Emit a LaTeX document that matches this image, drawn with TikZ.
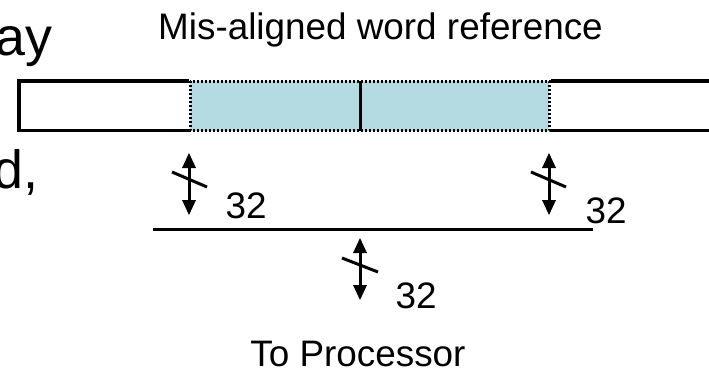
\documentclass[tikz,border=0pt]{standalone}
\usepackage{fontspec}
\setmainfont{Liberation Sans}
\usepackage{tikz}
\usetikzlibrary{arrows}
\usepackage{color}
\definecolor{wordfill}{RGB}{180,218,226}

\begin{document}
\begin{tikzpicture}[x=1bp,y=1bp]
\tikzstyle{every node}+=[inner sep=0pt,font=\fontsize{37}{44}\selectfont]
\tikzstyle{bigtext}=[font=\fontsize{54}{62}\selectfont]
\tikzstyle{busline}=[line width=3.5bp]
\tikzstyle{wire}=[line width=3bp,shorten <=7bp,shorten >=7bp]
\tikzstyle{slash}=[line width=3bp]
\useasboundingbox (0,0) rectangle (709,-370);
\node (way) [bigtext,anchor=base east] at (53,-55) {ay};
\node (word) [bigtext,anchor=base east] at (39,-188) {d,};
\node (title) [anchor=base] at (380.5,-39) {Mis-aligned word reference};
\draw [busline] (19,-81) rectangle (720,-130.5);
\fill [white] (188.5,-78.5) rectangle (550.5,-133);
\filldraw [fill=wordfill,draw=black,line width=3bp,dash pattern=on 2bp off 2bp] (190,-81) rectangle (549,-130.5);
\draw [line width=3bp] (360,-81) -- (360,-130.5);
\coordinate (busw) at (153,-229.5);
\coordinate (buse) at (593,-229.5);
\draw [busline] (busw) -- (buse);
\coordinate (lt) at (189,-153);
\coordinate (lb) at (189,-215);
\draw [wire] (lt) -- (lb);
\fill [black] (lt) -- ++(-7,-15) -- ++(14,0) -- cycle;
\fill [black] (lb) -- ++(-7,15) -- ++(14,0) -- cycle;
\draw [slash] ([shift={(-17,-19)}]lt) -- ++(35,-15);
\node (lw) [anchor=base west] at (225.5,-218) {32};
\coordinate (rt) at (549,-153);
\coordinate (rb) at (549,-215);
\draw [wire] (rt) -- (rb);
\fill [black] (rt) -- ++(-7,-15) -- ++(14,0) -- cycle;
\fill [black] (rb) -- ++(-7,15) -- ++(14,0) -- cycle;
\draw [slash] ([shift={(-18,-19)}]rt) -- ++(35,-15);
\node (rw) [anchor=base west] at (585.5,-223) {32};
\coordinate (ct) at (360,-238);
\coordinate (cb) at (360,-300);
\draw [wire] (ct) -- (cb);
\fill [black] (ct) -- ++(-7,-15) -- ++(14,0) -- cycle;
\fill [black] (cb) -- ++(-7,15) -- ++(14,0) -- cycle;
\draw [slash] ([shift={(-18,-20)}]ct) -- ++(36,-14);
\node (cw) [anchor=base west] at (395.5,-308) {32};
\node (cpu) [anchor=base] at (358,-366) {To Processor};
\end{tikzpicture}
\end{document}
